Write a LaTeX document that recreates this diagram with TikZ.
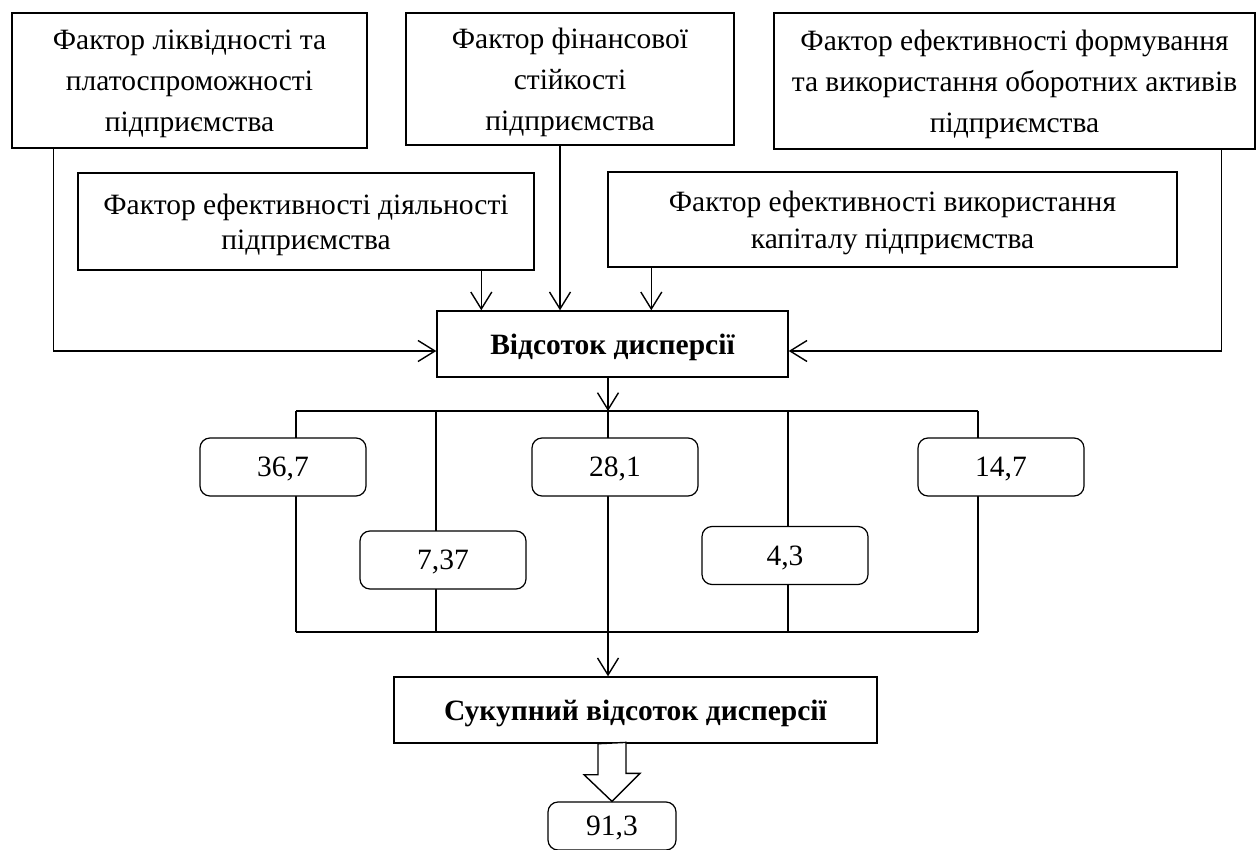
\documentclass[tikz,border=0pt]{standalone}
\usepackage{fontspec}
\setmainfont{Liberation Serif}
\usetikzlibrary{arrows.meta,calc}
\begin{document}
\begin{tikzpicture}[x=1pt,y=-1pt,
  lw/.style={line width=1.4pt},
  box/.style={draw,lw,fill=white,inner sep=0pt,align=center,text depth=0pt,font=\fontsize{29.5}{41}\selectfont},
  box2l/.style={box,font=\fontsize{29.5}{35}\selectfont},
  box2m/.style={box,font=\fontsize{29.5}{37}\selectfont},
  valbox/.style={draw,line width=1.2pt,fill=white,rounded corners=10pt,inner sep=0pt,text depth=0pt,font=\fontsize{29.5}{34}\selectfont,minimum width=166pt,minimum height=58pt},
  boldbox/.style={box,font=\fontsize{29.5}{34}\selectfont\bfseries},
  arr/.style={lw,-{Straight Barb[length=17pt,width=21pt,line width=1.4pt]}},
  ln/.style={lw}]
\useasboundingbox (0,0) rectangle (1257,850);
% top factor boxes
\node[box,minimum width=355pt,minimum height=135pt] (b1) at (189.5,80.5)
  {Фактор ліквідності та\\платоспроможності\\підприємства};
\node[box,minimum width=328pt,minimum height=132pt] (b2) at (570,79)
  {Фактор фінансової\\стійкості\\підприємства};
\node[box,minimum width=481pt,minimum height=136pt] (b3) at (1014.5,81)
  {Фактор ефективності формування\\та використання оборотних активів\\підприємства};
\node[box2l,minimum width=456pt,minimum height=97pt] (b4) at (306,221.5)
  {Фактор ефективності діяльності\\підприємства};
\node[box2m,minimum width=569pt,minimum height=95pt] (b5) at (892.5,219.5)
  {Фактор ефективності використання\\капіталу підприємства};
% main box
\node[boldbox,minimum width=351pt,minimum height=66pt] (main) at (612.5,344) {Відсоток дисперсії};
% bus coordinates
\coordinate (tl) at (296,411);
\coordinate (tr) at (978,411);
\coordinate (bl) at (296,632);
\coordinate (br) at (978,632);
\coordinate (m) at (608,632);
\draw[ln] (tl) -- (tr);
\draw[ln] (bl) -- (br);
\foreach \xx in {296,436,608,788,978} \draw[ln] (\xx,411) -- (\xx,632);
% value boxes
\node[valbox] (v1) at (283,467) {36,7};
\node[valbox] (v2) at (443,560) {7,37};
\node[valbox] (v3) at (615,467) {28,1};
\node[valbox] (v4) at (785,555.5) {4,3};
\node[valbox] (v5) at (1001,467) {14,7};
% sum box
\node[boldbox,minimum width=483pt,minimum height=66pt] (sum) at (635.5,710) {Сукупний відсоток дисперсії};
\node[valbox,minimum width=128pt,minimum height=48pt] (res) at (612,826) {91,3};
% connectors
\draw[arr] ([xshift=42pt]b1.south west) |- ([yshift=-7pt]main.west);
\draw[arr] ([xshift=-34pt]b3.south east) |- ([yshift=-7pt]main.east);
\draw[arr] ([xshift=-10pt]b2.south) -- ([xshift=-10pt]b2.south |- main.north);
\draw[arr] ([xshift=404pt]b4.south west) -- ([xshift=404pt]b4.south west |- main.north);
\draw[arr] ([xshift=44pt]b5.south west) -- ([xshift=44pt]b5.south west |- main.north);
\draw[arr] ([xshift=-4.5pt]main.south) -- ([xshift=-4.5pt]main.south |- tl);
\draw[arr] (m) -- (m |- sum.north);
% hollow arrow
\draw[lw,fill=white,line join=miter] ([xshift=-37.5pt]sum.south) -- ++(0,31) -- ++(-14,0) -- (res.north) -- ++(28,-28) -- ++(-14,0) -- ++(0,-31) -- cycle;
\end{tikzpicture}
\end{document}
